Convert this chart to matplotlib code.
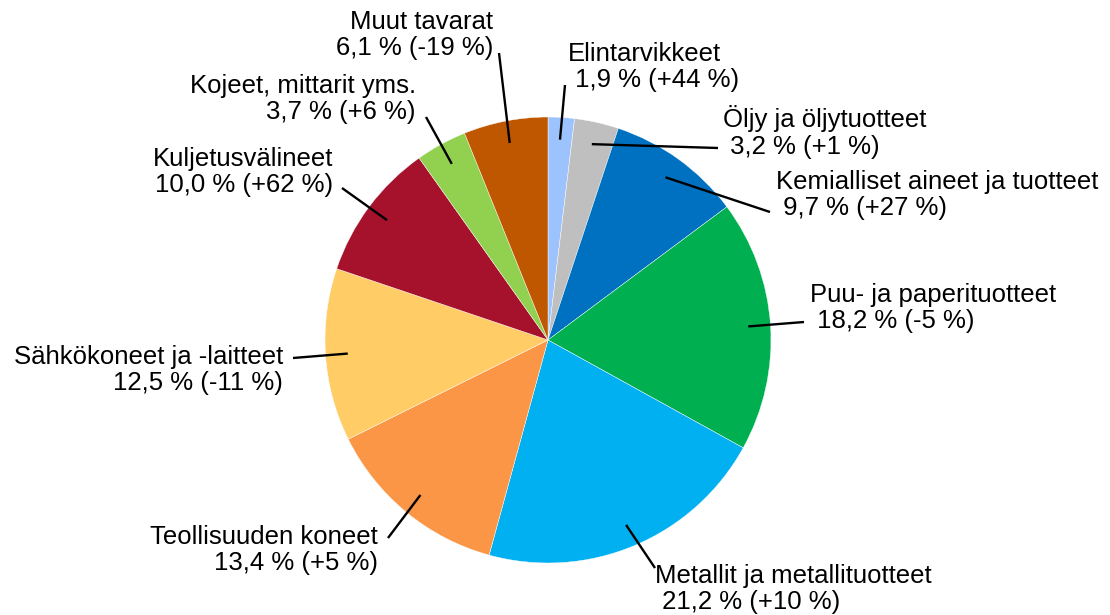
import matplotlib.pyplot as plt
import numpy as np

plt.rcParams["font.family"] = ["Liberation Sans", "DejaVu Sans"]

categories = [
    "Elintarvikkeet",
    "Öljy ja öljytuotteet",
    "Kemialliset aineet ja tuotteet",
    "Puu- ja paperituotteet",
    "Metallit ja metallituotteet",
    "Teollisuuden koneet",
    "Sähkökoneet ja -laitteet",
    "Kuljetusvälineet",
    "Kojeet, mittarit yms.",
    "Muut tavarat",
]
shares = [1.9, 3.2, 9.7, 18.2, 21.2, 13.4, 12.5, 10.0, 3.7, 6.1]
changes = ["+44", "+1", "+27", "-5", "+10", "+5", "-11", "+62", "+6", "-19"]

colors = ["#9DC3FF", "#BEBFBE", "#0070C0", "#00B050", "#00B0F0",
          "#FB9646", "#FFCC66", "#A6122C", "#92D050", "#BF5700"]

# layout (pixel coords, y from top): end of leader line, text anchor, side
leader_end = [(565, 85), (718, 148), (770, 212), (804, 322), (655, 568),
              (388, 538), (293, 358), (342, 188), (426, 117), (499, 53)]
text_pos = [(568, 67), (723, 132), (776, 195), (810, 308), (655, 589),
            (378, 550), (283, 370), (333, 172), (416, 99), (493, 35)]
side = ["right", "right", "right", "right", "right",
        "left", "left", "left", "left", "left"]

W, H = 1110, 615


def px(x, y):
    return x, H - y


fig = plt.figure(figsize=(11.1, 6.15), dpi=100)
ax = fig.add_axes([0, 0, 1, 1])

cx, cy = px(548, 340)
R = 223
wedges, _ = ax.pie(shares, colors=colors, startangle=90, counterclock=False,
                   center=(cx, cy), radius=R,
                   wedgeprops=dict(edgecolor="white", linewidth=0.3))

for i, w in enumerate(wedges):
    mid = np.deg2rad((w.theta1 + w.theta2) / 2)
    x0 = cx + 0.9 * R * np.cos(mid)
    y0 = cy + 0.9 * R * np.sin(mid)
    x1, y1 = px(*leader_end[i])
    ax.plot([x0, x1], [y0, y1], color="black", lw=1.7, solid_capstyle="butt")

    val = f"{shares[i]:.1f}".replace(".", ",") + f" % ({changes[i]} %)"
    tx, ty = px(*text_pos[i])
    if side[i] == "right":
        label = categories[i] + "\n " + val
        ax.text(tx, ty, label, ha="left", va="center", multialignment="left",
                fontsize=18.5, linespacing=1.12)
    else:
        label = categories[i] + "\n" + val
        ax.text(tx, ty, label, ha="right", va="center", multialignment="right",
                fontsize=18.5, linespacing=1.12)

ax.set_xlim(0, W)
ax.set_ylim(0, H)
ax.set_aspect("equal")
ax.axis("off")

fig.savefig("out.png", dpi=100, facecolor="white")
